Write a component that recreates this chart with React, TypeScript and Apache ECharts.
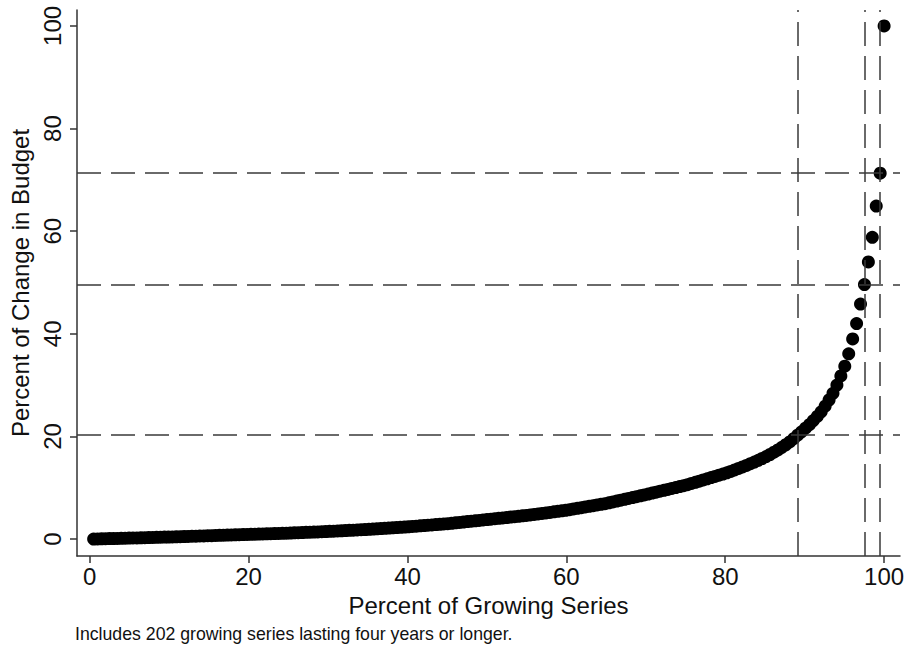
import React, { useEffect, useRef } from "react";
import * as echarts from "echarts";

// Number of growing series; each point is one series ranked by its share.
const seriesCount = 202;

// Cumulative percent of the budget change, series sorted from smallest to largest share.
const cumulativeShare = [
  0.01, 0.03, 0.05, 0.07, 0.09, 0.11, 0.13, 0.15, 0.17, 0.19,
  0.21, 0.23, 0.25, 0.27, 0.29, 0.31, 0.34, 0.36, 0.38, 0.40,
  0.42, 0.45, 0.47, 0.50, 0.52, 0.55, 0.57, 0.60, 0.62, 0.65,
  0.67, 0.70, 0.72, 0.75, 0.77, 0.80, 0.82, 0.85, 0.87, 0.90,
  0.92, 0.95, 0.97, 1.00, 1.02, 1.05, 1.07, 1.10, 1.12, 1.15,
  1.18, 1.21, 1.24, 1.27, 1.31, 1.34, 1.37, 1.40, 1.43, 1.47, 1.50,
  1.54, 1.58, 1.62, 1.66, 1.70, 1.74, 1.78, 1.82, 1.86, 1.90,
  1.95, 2.00, 2.05, 2.10, 2.15, 2.20, 2.25, 2.30, 2.35, 2.40,
  2.46, 2.52, 2.58, 2.64, 2.70, 2.76, 2.82, 2.88, 2.94, 3.00,
  3.08, 3.16, 3.24, 3.32, 3.40, 3.48, 3.56, 3.64, 3.72, 3.80,
  3.88, 3.96, 4.04, 4.12, 4.20, 4.28, 4.36, 4.44, 4.52, 4.60,
  4.70, 4.80, 4.90, 5.00, 5.10, 5.20, 5.30, 5.40, 5.50, 5.60,
  5.73, 5.86, 5.99, 6.12, 6.25, 6.38, 6.51, 6.64, 6.77, 6.90,
  7.07, 7.24, 7.41, 7.58, 7.75, 7.92, 8.09, 8.26, 8.43, 8.60,
  8.78, 8.96, 9.14, 9.32, 9.50, 9.68, 9.86, 10.04, 10.22, 10.40, 10.60,
  10.83, 11.06, 11.29, 11.52, 11.75, 11.98, 12.21, 12.44, 12.67, 12.90,
  13.18, 13.46, 13.76, 14.06, 14.36, 14.68, 15.00, 15.34, 15.70, 16.08,
  16.48, 16.92, 17.38, 17.87, 18.38, 18.92, 19.55, 20.25,
  20.90, 21.60, 22.30, 23.10, 23.90, 24.80,
  25.90, 27.10, 28.40,
  30.00, 31.80, 33.70,
  36.10, 39.00, 42.00, 45.80, 49.60, 54.00, 58.80, 64.90, 71.30, 100.00,
];

// Ranks whose position is marked with dashed reference lines.
const markedRanks = [180, 197, 201];

const xTicks = [0, 20, 40, 60, 80, 100];
const yTicks = [0, 20, 40, 60, 80, 100];

const FONT = "'Liberation Sans', Arial, sans-serif";

const rankPercent = (rank: number) => (rank / seriesCount) * 100;

export default function App() {
  const ref = useRef<HTMLDivElement>(null);

  useEffect(() => {
    if (!ref.current) return;
    const chart = echarts.init(ref.current, null, { renderer: "svg" });

    const points = cumulativeShare.map((v, i) => [rankPercent(i + 1), v]);
    const axisLineStyle = { color: "#333", width: 1.5 };

    chart.setOption({
      animation: false,
      backgroundColor: "#fff",
      grid: { left: 72, right: 11, top: 10, bottom: 93 },
      xAxis: {
        type: "value",
        min: -1.6,
        max: 102,
        splitLine: { show: false },
        axisLine: { show: true, onZero: false, lineStyle: axisLineStyle },
        axisTick: { show: true, length: 7, customValues: xTicks, lineStyle: axisLineStyle },
        axisLabel: { customValues: xTicks, fontSize: 24, color: "#111", margin: 8, fontFamily: FONT },
        name: "Percent of Growing Series",
        nameLocation: "middle",
        nameGap: 37,
        nameTextStyle: { fontSize: 24, color: "#111", fontFamily: FONT },
      },
      yAxis: {
        type: "value",
        min: -3.3,
        max: 103.1,
        splitLine: { show: false },
        axisLine: { show: true, onZero: false, lineStyle: axisLineStyle },
        axisTick: { show: true, length: 7, customValues: yTicks, lineStyle: axisLineStyle },
        axisLabel: { customValues: yTicks, fontSize: 24, color: "#111", margin: 13, rotate: 90, fontFamily: FONT },
        name: "Percent of Change in Budget",
        nameLocation: "middle",
        nameGap: 45,
        nameRotate: 90,
        nameTextStyle: { fontSize: 24, color: "#111", fontFamily: FONT },
      },
      graphic: [
        {
          type: "text",
          left: 75,
          top: 625,
          style: {
            text: "Includes 202 growing series lasting four years or longer.",
            fontSize: 17.7,
            fill: "#111",
            fontFamily: FONT,
          },
        },
      ],
      series: [
        {
          type: "scatter",
          data: points,
          symbolSize: 13,
          itemStyle: { color: "#000", opacity: 1 },
          markLine: {
            silent: true,
            symbol: ["none", "none"],
            label: { show: false },
            lineStyle: { type: [24, 10], color: "#3a3a3a", width: 1.5 },
            data: [
              ...markedRanks.map((r) => ({ xAxis: rankPercent(r) })),
              ...markedRanks.map((r) => ({ yAxis: cumulativeShare[r - 1] })),
            ],
          },
        },
      ],
    });

    return () => chart.dispose();
  }, []);

  return (
    <div
      ref={ref}
      style={{ position: "fixed", left: 0, top: 0, width: 911, height: 649, background: "#fff" }}
    />
  );
}
